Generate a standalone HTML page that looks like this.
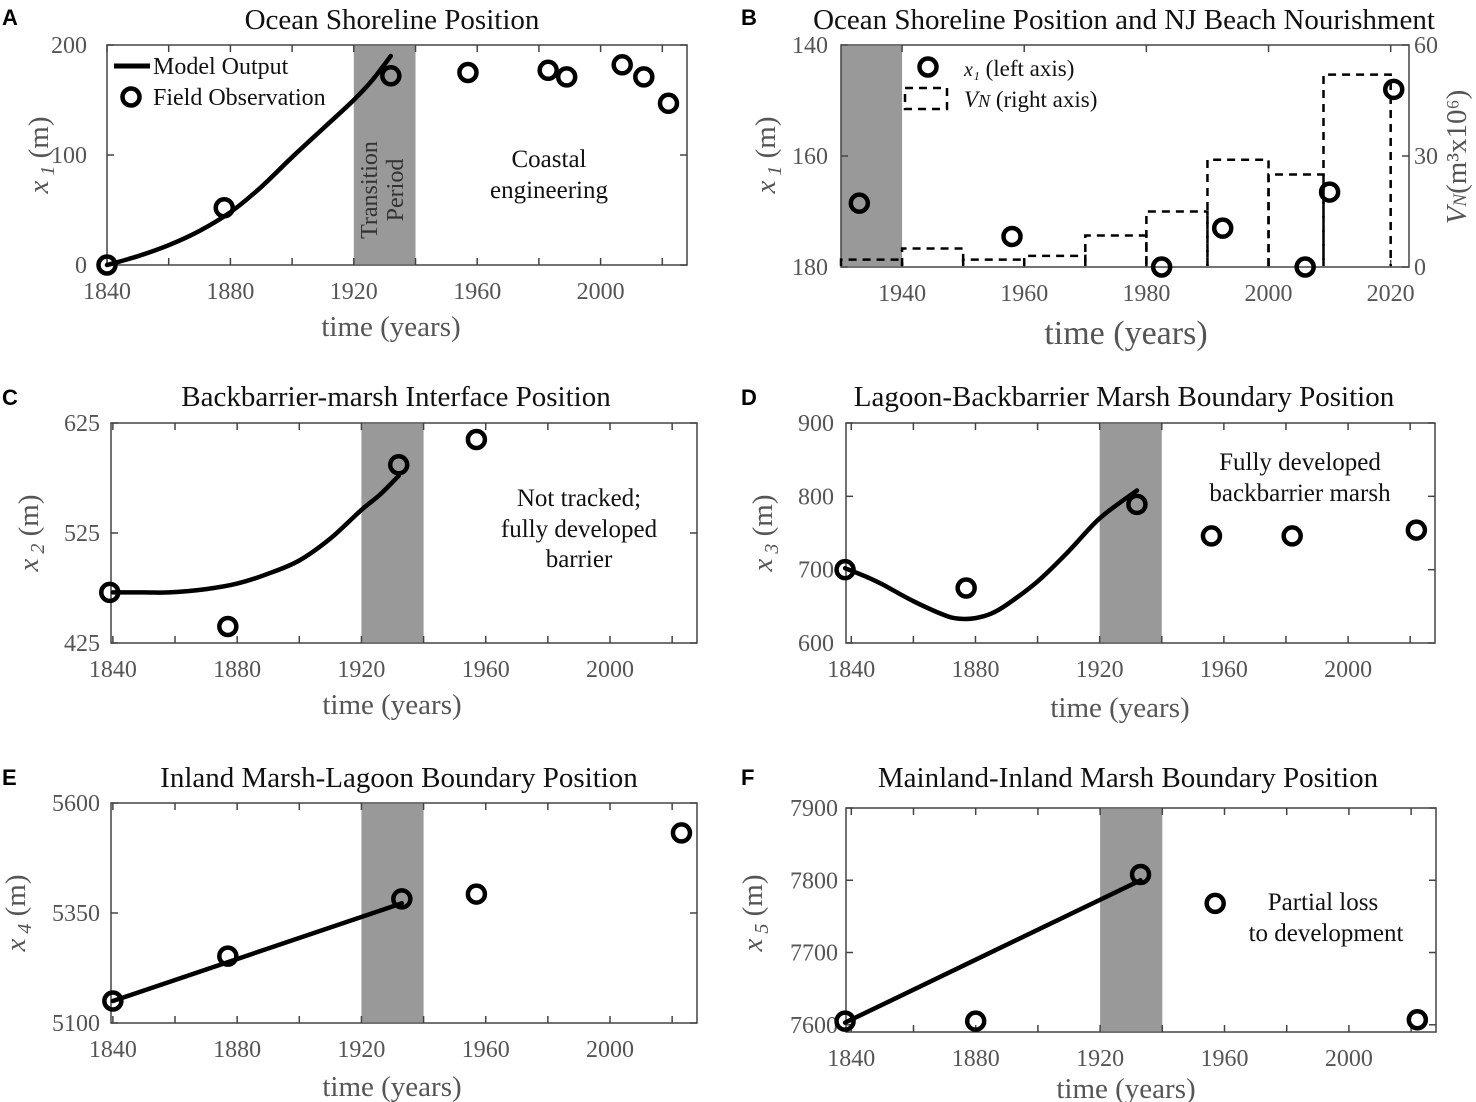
<!DOCTYPE html>
<html><head><meta charset="utf-8"><style>
html,body{margin:0;padding:0;background:#fff;}
svg{display:block;font-family:"Liberation Serif",serif;}
.tick{fill:#555;font-size:24px;}
.title{fill:#111;font-size:29px;}
.xlab{fill:#555;font-size:29px;}
.ann{fill:#111;font-size:25px;}
.plet{font-family:"Liberation Sans",sans-serif;font-weight:bold;font-size:22px;fill:#000;}
</style></head><body>
<svg id="fig" width="1476" height="1102" viewBox="0 0 1476 1102" xmlns="http://www.w3.org/2000/svg"></svg>
<script>
// ---- data ----
const aModelYears=[1840,1850,1860,1870,1880,1890,1900,1910,1920,1926,1932];
const aModelVals=[0,8,18,31,48,71,98,124,150,168,190];
const aObsYears=[1840,1878,1932,1957,1983,1989,2007,2014,2022];
const aObsVals=[0,52,172,175,177,171,182,171,147];

const bObsYears=[1933,1958,1982.5,1992.5,2006,2010,2020.5];
const bObsVals=[168.5,174.5,180,173,180,166.5,148];
const bBinStarts=[1930,1940,1950,1960,1970,1980,1990,2000,2009];
const bBinEnds=[1940,1950,1960,1970,1980,1990,2000,2009,2020];
const bNourish=[2,5,2,3,8.5,15,29,25,52];

const cModelYears=[1840,1850,1858,1870,1880,1890,1900,1910,1920,1926,1932];
const cModelVals=[471,471,471,474,479,488,500,520,546,560,577];
const cObsYears=[1839,1877,1932,1957];
const cObsVals=[471,440,587,610];

const dModelYears=[1838,1845,1850,1860,1870,1875,1880,1885,1890,1900,1910,1920,1932];
const dModelVals=[702,690,680,657,638,633,634,640,652,684,725,770,808];
const dObsYears=[1838,1877,1932,1956,1982,2022];
const dObsVals=[700,675,789,746,746,754];

const eModelYears=[1840,1933];
const eModelVals=[5150,5372];
const eObsYears=[1840,1877,1933,1957,2023];
const eObsVals=[5150,5252,5382,5393,5532];

const fModelYears=[1838,1933];
const fModelVals=[7603,7800];
const fObsYears=[1838,1880,1933,2022];
const fObsVals=[7605,7605,7808,7607];
const fLegendMarker=[1957,7768];

// ---- helpers ----
const NS="http://www.w3.org/2000/svg";
const svg=document.getElementById('fig');
function el(tag,attrs,parent,text){const e=document.createElementNS(NS,tag);for(const k in attrs)e.setAttribute(k,attrs[k]);if(text!==undefined)e.textContent=text;(parent||svg).appendChild(e);return e;}
function frame(ax,xt,xlabels,yt,labelX){
  const {g,sx,o}=ax;
  const r=el('rect',{x:o.x0,y:o.y0,width:o.x1-o.x0,height:o.y1-o.y0,fill:'none',stroke:'#444','stroke-width':1.5},g);
  
  
  xt.forEach(v=>{const x=sx(v);if(x<o.x0-1||x>o.x1+1)return;
    el('line',{x1:x,x2:x,y1:o.y1,y2:o.y1-7,stroke:'#444','stroke-width':1.5},g);
    el('line',{x1:x,x2:x,y1:o.y0,y2:o.y0+7,stroke:'#444','stroke-width':1.5},g);});
  xlabels.forEach(v=>{const t=el('text',{x:sx(v),y:o.y1+34,'text-anchor':'middle',class:'tick'},g,String(v));
    
    });
  yt.forEach(v=>{const y=o.ysc(v);
    el('line',{x1:o.x0,x2:o.x0+7,y1:y,y2:y,stroke:'#444','stroke-width':1.5},g);
    if(!o.noRightTicks)el('line',{x1:o.x1,x2:o.x1-7,y1:y,y2:y,stroke:'#444','stroke-width':1.5},g);
    const t=el('text',{x:labelX,y:y+8,'text-anchor':'end',class:'tick'},g,String(v));
    
    });
}
function shade(ax,a,b){const {g,sx,o}=ax;const r=el('rect',{x:sx(a),y:o.y0+1,width:sx(b)-sx(a),height:o.y1-o.y0-2,fill:'#999'},g);
  
  }
function line(ax,xs,ys,name){const {g,sx,o}=ax;
  const P=xs.map((x,i)=>[sx(x),o.ysc(ys[i])]);
  let d='M'+P[0][0].toFixed(1)+','+P[0][1].toFixed(1);
  for(let i=0;i<P.length-1;i++){
    const p0=P[Math.max(0,i-1)],p1=P[i],p2=P[i+1],p3=P[Math.min(P.length-1,i+2)];
    const c1=[p1[0]+(p2[0]-p0[0])/6,p1[1]+(p2[1]-p0[1])/6];
    const c2=[p2[0]-(p3[0]-p1[0])/6,p2[1]-(p3[1]-p1[1])/6];
    d+=` C${c1[0].toFixed(1)},${c1[1].toFixed(1)} ${c2[0].toFixed(1)},${c2[1].toFixed(1)} ${p2[0].toFixed(1)},${p2[1].toFixed(1)}`;
  }
  const l=el('path',{d:d,fill:'none',stroke:'#000','stroke-width':4.5,'stroke-linejoin':'round','stroke-linecap':'round'},g);
  
  }
function circles(ax,xs,ys,name){const {g,sx,o}=ax;
  xs.forEach((x,i)=>{const c=el('circle',{cx:sx(x),cy:o.ysc(ys[i]),r:8.5,fill:'none',stroke:'#000','stroke-width':4.5},g);
    
    });}
function text(x,y,s,cls,name,style){const t=el('text',{x:x,y:y,class:cls,'text-anchor':'middle'},svg,s);
  if(style)t.setAttribute('style',style);
  
  return t;}
function ylabel(x,y,sub,name){const t=el('text',{x:0,y:0,transform:`translate(${x},${y}) rotate(-90)`,'text-anchor':'middle',class:'xlab'});
  
  
  el('tspan',{'font-style':'italic'},t,'x');
  el('tspan',{'font-style':'italic',style:'font-size:20px',dy:'6'},t,' '+sub);
  el('tspan',{dy:'-6'},t,' (m)');}
function mk(name,x0,x1,y0,y1,xmin,xmax,ymin,ymax,rev){
  const o={name,x0,x1,y0,y1,xmin,xmax,ymin,ymax,rev};
  o.ysc=rev?(v=>y0+(v-ymin)/(ymax-ymin)*(y1-y0)):(v=>y1-(v-ymin)/(ymax-ymin)*(y1-y0));
  const g=el('g',{});
  
  
  return {g,o,sx:v=>x0+(v-xmin)/(xmax-xmin)*(x1-x0)};
}
const decTicks=[1840,1860,1880,1900,1920,1940,1960,1980,2000,2020];
const decLabels=[1840,1880,1920,1960,2000];

// Panel letters
['A','B','C','D','E','F'].forEach((L,i)=>{const x=i%2?741:2;const y=[25,25,405,405,785,785][i];
  const t=el('text',{x:x,y:y,class:'plet'},svg,L);
  
  });

// ---- Panel A ----
const A=mk('panel-a-axes',107,687,45,265,1840,2028,0,200,false);
shade(A,1920,1940);
frame(A,decTicks,decLabels,[0,100,200],87);
line(A,aModelYears,aModelVals,'model-output-line');
circles(A,aObsYears,aObsVals,'field-observation-marker');
text(392,29,'Ocean Shoreline Position','title','panel-a-title');
text(391,336,'time (years)','xlab','panel-a-x-axis-title');
ylabel(48,155,'1','panel-a-y-axis-title');
{const t=el('text',{x:0,y:0,transform:'translate(377,190) rotate(-90)','text-anchor':'middle',class:'ann',style:'fill:#333;font-size:24px'});
 el('tspan',{x:0,dy:0},t,'Transition');el('tspan',{x:0,dy:26},t,'Period');}
text(549,167,'Coastal','ann','coastal-engineering-label');
text(549,198,'engineering','ann','coastal-engineering-label-2');
{const l=el('line',{x1:114,x2:150,y1:66,y2:66,stroke:'#000','stroke-width':5});
 const c=el('circle',{cx:131,cy:97,r:8.5,fill:'none',stroke:'#000','stroke-width':4.5});
 const t1=el('text',{x:153,y:74,class:'ann',style:'font-size:24px'},svg,'Model Output');
 const t2=el('text',{x:153,y:105,class:'ann',style:'font-size:24px'},svg,'Field Observation');}

// ---- Panel B ----
const B=mk('panel-b-axes',841,1409,45,267,1930,2023,140,180,true);
shade(B,1930,1940);
B.o.noRightTicks=true;
frame(B,[1940,1960,1980,2000,2020],[1940,1960,1980,2000,2020],[140,160,180],828);
const vn=v=>267-v/60*222;
{const g=B.g;
 [0,30,60].forEach(v=>{el('line',{x1:1409,x2:1402,y1:vn(v),y2:vn(v),stroke:'#444','stroke-width':1.5},g);
  const t=el('text',{x:1414,y:vn(v)+8,class:'tick'},g,String(v));});
 bBinStarts.forEach((s,i)=>{const x0=B.sx(s),x1=B.sx(bBinEnds[i]),y=vn(bNourish[i]);
  const p=el('polyline',{points:`${x0},266 ${x0},${y} ${x1},${y} ${x1},266`,fill:'none',stroke:'#000','stroke-width':2.5,'stroke-dasharray':'8,6'},g);
  
  });}
circles(B,bObsYears,bObsVals,'x1-observation-marker');
text(1124,29,'Ocean Shoreline Position and NJ Beach Nourishment','title','panel-b-title');
text(1126,344,'time (years)','xlab','panel-b-x-axis-title','font-size:34px');
ylabel(775,155,'1','panel-b-y-axis-title');
{const t=el('text',{x:0,y:0,transform:'translate(1466,157) rotate(-90)','text-anchor':'middle',class:'xlab'});
 el('tspan',{'font-style':'italic'},t,'V');el('tspan',{'font-style':'italic',style:'font-size:19px'},t,'N');el('tspan',{},t,'(m³x10⁶)');}
{const c=el('circle',{cx:928,cy:67,r:8.5,fill:'none',stroke:'#000','stroke-width':4.5});
 const r=el('rect',{x:905,y:88,width:42,height:21,fill:'none',stroke:'#000','stroke-width':2.5,'stroke-dasharray':'8,6'});
 const t1=el('text',{x:964,y:76,class:'ann',style:'font-size:23px'});
 el('tspan',{'font-style':'italic',style:'font-size:20px'},t1,'x₁');el('tspan',{},t1,' (left axis)');
 const t2=el('text',{x:964,y:107,class:'ann',style:'font-size:23px'});
 el('tspan',{'font-style':'italic'},t2,'V');el('tspan',{'font-style':'italic',style:'font-size:18px'},t2,'N');el('tspan',{},t2,' (right axis)');}

// ---- Panel C ----
const C=mk('panel-c-axes',111,697,423,643,1839.4,2028,425,625,false);
shade(C,1920,1940);
frame(C,decTicks,decLabels,[425,525,625],100);
line(C,cModelYears,cModelVals,'model-output-line');
circles(C,cObsYears,cObsVals,'field-observation-marker');
text(396,406,'Backbarrier-marsh Interface Position','title','panel-c-title');
text(392,714,'time (years)','xlab','panel-c-x-axis-title');
ylabel(38,533,'2','panel-c-y-axis-title');
text(579,506,'Not tracked;','ann','not-tracked-label');
text(579,537,'fully developed','ann','not-tracked-label-2');
text(579,567,'barrier','ann','not-tracked-label-3');

// ---- Panel D ----
const D=mk('panel-d-axes',846,1435,423,643,1838.3,2028,600,900,false);
shade(D,1920,1940);
frame(D,decTicks,decLabels,[600,700,800,900],834);
line(D,dModelYears,dModelVals,'model-output-line');
circles(D,dObsYears,dObsVals,'field-observation-marker');
text(1124,406,'Lagoon-Backbarrier Marsh Boundary Position','title','panel-d-title');
text(1120,717,'time (years)','xlab','panel-d-x-axis-title');
ylabel(772,533,'3','panel-d-y-axis-title');
text(1300,470,'Fully developed','ann','fully-developed-label');
text(1300,501,'backbarrier marsh','ann','fully-developed-label-2');

// ---- Panel E ----
const E=mk('panel-e-axes',111,697,803,1023,1839.4,2028,5100,5600,false);
shade(E,1920,1940);
frame(E,decTicks,decLabels,[5100,5350,5600],100);
line(E,eModelYears,eModelVals,'model-output-line');
circles(E,eObsYears,eObsVals,'field-observation-marker');
text(399,787,'Inland Marsh-Lagoon Boundary Position','title','panel-e-title');
text(392,1096,'time (years)','xlab','panel-e-x-axis-title');
ylabel(25,913,'4','panel-e-y-axis-title');

// ---- Panel F ----
const F=mk('panel-f-axes',846,1436,808,1032,1838.3,2028,7590,7900,false);
shade(F,1920,1940);
frame(F,decTicks,decLabels,[7600,7700,7800,7900],838);
line(F,fModelYears,fModelVals,'model-output-line');
circles(F,fObsYears,fObsVals,'field-observation-marker');
circles(F,[fLegendMarker[0]],[fLegendMarker[1]],'partial-loss-marker');
text(1128,787,'Mainland-Inland Marsh Boundary Position','title','panel-f-title');
text(1126,1098,'time (years)','xlab','panel-f-x-axis-title');
ylabel(762,913,'5','panel-f-y-axis-title');
text(1323,910,'Partial loss','ann','partial-loss-label');
text(1326,941,'to development','ann','partial-loss-label-2');
</script>
</body></html>
